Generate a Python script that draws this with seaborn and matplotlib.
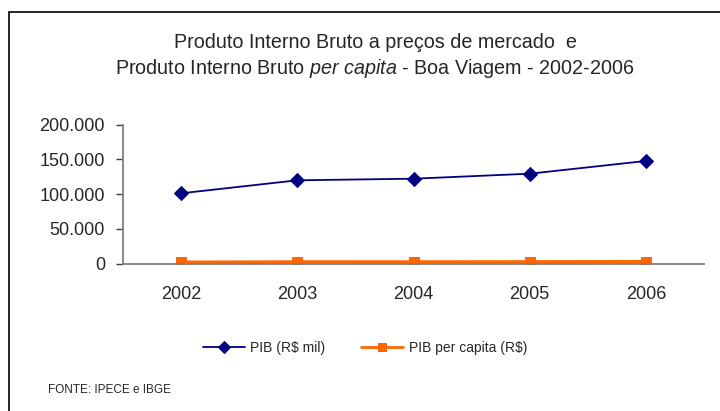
import pandas as pd
import seaborn as sns
import matplotlib.pyplot as plt
from matplotlib.patches import Rectangle
from matplotlib.ticker import FuncFormatter, FixedLocator
sns.set_style("white")
plt.rcParams['font.family'] = ['Liberation Sans', 'DejaVu Sans']
plt.rcParams['mathtext.fontset'] = 'custom'
plt.rcParams['mathtext.rm'] = 'Liberation Sans'
plt.rcParams['mathtext.it'] = 'Liberation Sans:italic'

anos = ['2002', '2003', '2004', '2005', '2006']
pib = [101300, 120000, 122300, 129500, 147800]
pib_per_capita = [1950, 2340, 2370, 2480, 2830]

df = pd.DataFrame({'Ano': anos, 'PIB': pib, 'PIB per capita': pib_per_capita})

fig = plt.figure(figsize=(7.2, 4.11), dpi=100)
ax = fig.add_axes([123/720, 1 - 263.7/411, (704 - 123)/720, (263.7 - 124.7)/411])

sns.lineplot(data=df, x='Ano', y='PIB', ax=ax, color='#000080', lw=1.3,
             marker='D', markersize=7, markeredgecolor='#000080', label='PIB (R$ mil)')
sns.lineplot(data=df, x='Ano', y='PIB per capita', ax=ax, color='#FF6600', lw=2.6,
             marker='s', markersize=7, markeredgecolor='#FF6600', label='PIB per capita (R$)')

ax.set_xlim(-0.5, 4.5)
ax.set_ylim(0, 200000)
ax.set_yticks([0, 50000, 100000, 150000, 200000])
ax.yaxis.set_major_formatter(FuncFormatter(lambda v, p: f'{int(v):,}'.replace(',', '.')))
ax.xaxis.set_minor_locator(FixedLocator([-0.5, 0.5, 1.5, 2.5, 3.5, 4.5]))
ax.tick_params(axis='x', which='major', length=0, pad=16, labelsize=13)
ax.tick_params(axis='x', which='minor', length=6, width=1, color='#404040', direction='out')
ax.tick_params(axis='y', length=5, width=1, color='#404040', direction='out', pad=8, labelsize=13, left=True)
ax.set_xlabel('')
ax.set_ylabel('')
for s in ['top', 'right']:
    ax.spines[s].set_visible(False)
for s in ['left', 'bottom']:
    ax.spines[s].set_color('#808080')
    ax.spines[s].set_linewidth(1.3)

leg = ax.legend(loc='center', bbox_to_anchor=(365/720, 1 - 348/411), bbox_transform=fig.transFigure,
                ncol=2, frameon=False, fontsize=10, handlelength=3, columnspacing=2.6, handletextpad=0.4)
for h in leg.legend_handles:
    h.set_markersize(6)
leg.legend_handles[1].set_linewidth(2)

fig.text(375/720, 1 - 42/411, 'Produto Interno Bruto a preços de mercado  e', ha='center', va='center', fontsize=14.2)
fig.text(375/720, 1 - 68/411, 'Produto Interno Bruto $\\it{per\\ capita}$ - Boa Viagem - 2002-2006',
         ha='center', va='center', fontsize=14.2)
fig.text(48/720, 1 - 390/411, 'FONTE: IPECE e IBGE', ha='left', va='center', fontsize=8.5)

fig.patches.append(Rectangle((8.5/720, -0.1), 1.2, 1 - 11.5/411 + 0.1, transform=fig.transFigure,
                             fill=False, edgecolor='black', lw=1.2))

fig.savefig('out.png', dpi=100)
